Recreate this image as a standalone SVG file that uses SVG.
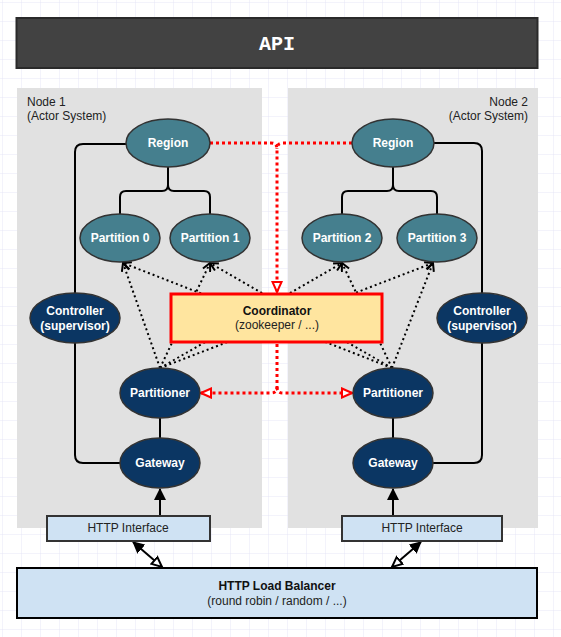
<svg xmlns="http://www.w3.org/2000/svg" width="561" height="637" viewBox="0 0 561 637">
<style>
.t{font-family:"Liberation Sans",Arial,sans-serif;font-size:12px;text-anchor:middle}
.b{font-weight:bold}
.w{fill:#ffffff}
.teal{fill:#457f8e;stroke:#333333;stroke-width:1.5}
.navy{fill:#0b3663;stroke:#333333;stroke-width:1.5}
.solid{fill:none;stroke:#000000;stroke-width:2}
.dot{fill:none;stroke:#000000;stroke-width:2;stroke-dasharray:2 3}
.red{fill:none;stroke:#ff0000;stroke-width:3;stroke-dasharray:3 3}
.panel{fill:#e1e1e1}
.blue{fill:#cfe2f3;stroke:#333333;stroke-width:2}
</style>
<defs>
<pattern id="grid" width="19" height="19" patternUnits="userSpaceOnUse" x="3" y="3">
<path d="M19,0 V19 M0,19 H19" fill="none" stroke="#e6e6f6" stroke-width="1"/>
</pattern>
<marker id="redOpen" viewBox="0 0 12 12" refX="11" refY="6" markerWidth="12" markerHeight="12" markerUnits="userSpaceOnUse" orient="auto">
<path d="M1,1.5 L11,6 L1,10.5 Z" fill="#ffffff" stroke="#ff0000" stroke-width="2"/>
</marker>
<marker id="vOpen" viewBox="0 0 10 10" refX="9" refY="5" markerWidth="10" markerHeight="10" markerUnits="userSpaceOnUse" orient="auto">
<path d="M1,1 L9,5 L1,9" fill="none" stroke="#000000" stroke-width="2"/>
</marker>
<marker id="filled" viewBox="0 0 12 12" refX="11" refY="6" markerWidth="12" markerHeight="12" markerUnits="userSpaceOnUse" orient="auto">
<path d="M0,0 L12,6 L0,12 Z" fill="#000000"/>
</marker>
<marker id="openStart" viewBox="0 0 12 12" refX="1" refY="6" markerWidth="12" markerHeight="12" markerUnits="userSpaceOnUse" orient="auto">
<path d="M11,1.5 L1,6 L11,10.5 Z" fill="#ffffff" stroke="#000000" stroke-width="2"/>
</marker>
</defs>
<rect width="561" height="637" fill="#ffffff"/>
<rect width="561" height="637" fill="url(#grid)"/>

<g id="api">
<rect x="16.5" y="18" width="521" height="50" fill="#424242" stroke="#2a2a2a" stroke-width="2"/>
<text x="277" y="50" font-family="Liberation Mono,Courier New,monospace" font-size="20" font-weight="bold" fill="#ffffff" text-anchor="middle">API</text>
</g>

<g id="node1-panel">
<rect class="panel" x="17" y="88" width="245" height="440"/>
<text x="27" y="106" font-family="Liberation Sans,Arial,sans-serif" font-size="12" fill="#222">Node 1</text>
<text x="27" y="120" font-family="Liberation Sans,Arial,sans-serif" font-size="12" fill="#222">(Actor System)</text>
</g>
<g id="node2-panel">
<rect class="panel" x="288" y="88" width="250" height="440"/>
<text x="528" y="106" font-family="Liberation Sans,Arial,sans-serif" font-size="12" fill="#222" text-anchor="end">Node 2</text>
<text x="528" y="120" font-family="Liberation Sans,Arial,sans-serif" font-size="12" fill="#222" text-anchor="end">(Actor System)</text>
</g>

<g id="connectors">
<path class="solid" d="M127,144 H83 Q75,144 75,152 V455 Q75,463 83,463 H120"/>
<path class="solid" d="M434,143 H474 Q482,143 482,151 V455 Q482,463 474,463 H433"/>
<path class="solid" d="M168,167 V185 Q168,191 162,191 H126 Q120,191 120,197 V214 M168,185 Q168,191 174,191 H204 Q210,191 210,197 V214"/>
<path class="solid" d="M393,167 V185 Q393,191 387,191 H348 Q342,191 342,197 V214 M393,185 Q393,191 399,191 H431 Q437,191 437,197 V214"/>
<path class="solid" d="M160,418 V438"/>
<path class="solid" d="M393,418 V438"/>
<path class="solid" d="M160,516 V489" marker-end="url(#filled)"/>
<path class="solid" d="M393,516 V489" marker-end="url(#filled)"/>
<path class="solid" d="M162,567 L133,542" marker-start="url(#openStart)" marker-end="url(#filled)"/>
<path class="solid" d="M392,567 L421,542" marker-start="url(#openStart)" marker-end="url(#filled)"/>
<path class="dot" d="M160,368 L123,263" marker-end="url(#vOpen)"/>
<path class="dot" d="M160,368 L210,263" marker-end="url(#vOpen)"/>
<path class="dot" d="M160,368 L342,263" marker-end="url(#vOpen)"/>
<path class="dot" d="M160,368 L433,263" marker-end="url(#vOpen)"/>
<path class="dot" d="M392,368 L123,263" marker-end="url(#vOpen)"/>
<path class="dot" d="M392,368 L210,263" marker-end="url(#vOpen)"/>
<path class="dot" d="M392,368 L342,263" marker-end="url(#vOpen)"/>
<path class="dot" d="M392,368 L433,263" marker-end="url(#vOpen)"/>
<path class="red" d="M210,143 H271 Q277,143 277,149 V292" marker-end="url(#redOpen)"/>
<path class="red" d="M352,143 H283 Q277,143 277,149"/>
<path class="red" d="M277,344 V387 Q277,393 271,393 H201" marker-end="url(#redOpen)"/>
<path class="red" d="M277,387 Q277,393 283,393 H352" marker-end="url(#redOpen)"/>
</g>

<g id="region1"><ellipse class="teal" cx="168" cy="143" rx="42" ry="24"/><text class="t b w" x="168" y="147">Region</text></g>
<g id="partition0"><ellipse class="teal" cx="120" cy="238" rx="40" ry="24"/><text class="t b w" x="120" y="242">Partition 0</text></g>
<g id="partition1"><ellipse class="teal" cx="210" cy="238" rx="40" ry="24"/><text class="t b w" x="210" y="242">Partition 1</text></g>
<g id="region2"><ellipse class="teal" cx="393" cy="143" rx="41" ry="24"/><text class="t b w" x="393" y="147">Region</text></g>
<g id="partition2"><ellipse class="teal" cx="342" cy="238" rx="40" ry="24"/><text class="t b w" x="342" y="242">Partition 2</text></g>
<g id="partition3"><ellipse class="teal" cx="437" cy="238" rx="40" ry="24"/><text class="t b w" x="437" y="242">Partition 3</text></g>
<g id="controller1"><ellipse class="navy" cx="75" cy="318" rx="45" ry="25"/><text class="t b w" x="75" y="315">Controller</text><text class="t b w" x="75" y="330">(supervisor)</text></g>
<g id="controller2"><ellipse class="navy" cx="482" cy="318" rx="45" ry="25"/><text class="t b w" x="482" y="315">Controller</text><text class="t b w" x="482" y="330">(supervisor)</text></g>
<g id="partitioner1"><ellipse class="navy" cx="160" cy="393" rx="40" ry="25"/><text class="t b w" x="160" y="397">Partitioner</text></g>
<g id="partitioner2"><ellipse class="navy" cx="393" cy="393" rx="40" ry="25"/><text class="t b w" x="393" y="397">Partitioner</text></g>
<g id="gateway1"><ellipse class="navy" cx="160" cy="463" rx="40" ry="25"/><text class="t b w" x="160" y="467">Gateway</text></g>
<g id="gateway2"><ellipse class="navy" cx="393" cy="463" rx="40" ry="25"/><text class="t b w" x="393" y="467">Gateway</text></g>

<g id="coordinator">
<rect x="171" y="294" width="211" height="48" fill="#ffe59f" stroke="#ff0000" stroke-width="3"/>
<text class="t b" x="277" y="315" fill="#111">Coordinator</text>
<text class="t" x="277" y="329" fill="#222">(zookeeper / ...)</text>
</g>

<g id="http1"><rect class="blue" x="47" y="516" width="163" height="25"/><text class="t" x="128" y="532" fill="#222">HTTP Interface</text></g>
<g id="http2"><rect class="blue" x="342" y="516" width="160" height="25"/><text class="t" x="422" y="532" fill="#222">HTTP Interface</text></g>

<g id="loadbalancer">
<rect x="17" y="568" width="520" height="50" fill="#cfe2f3" stroke="#000000" stroke-width="2"/>
<text class="t b" x="277" y="590" fill="#111">HTTP Load Balancer</text>
<text class="t" x="277" y="605" fill="#222">(round robin / random / ...)</text>
</g>
</svg>
